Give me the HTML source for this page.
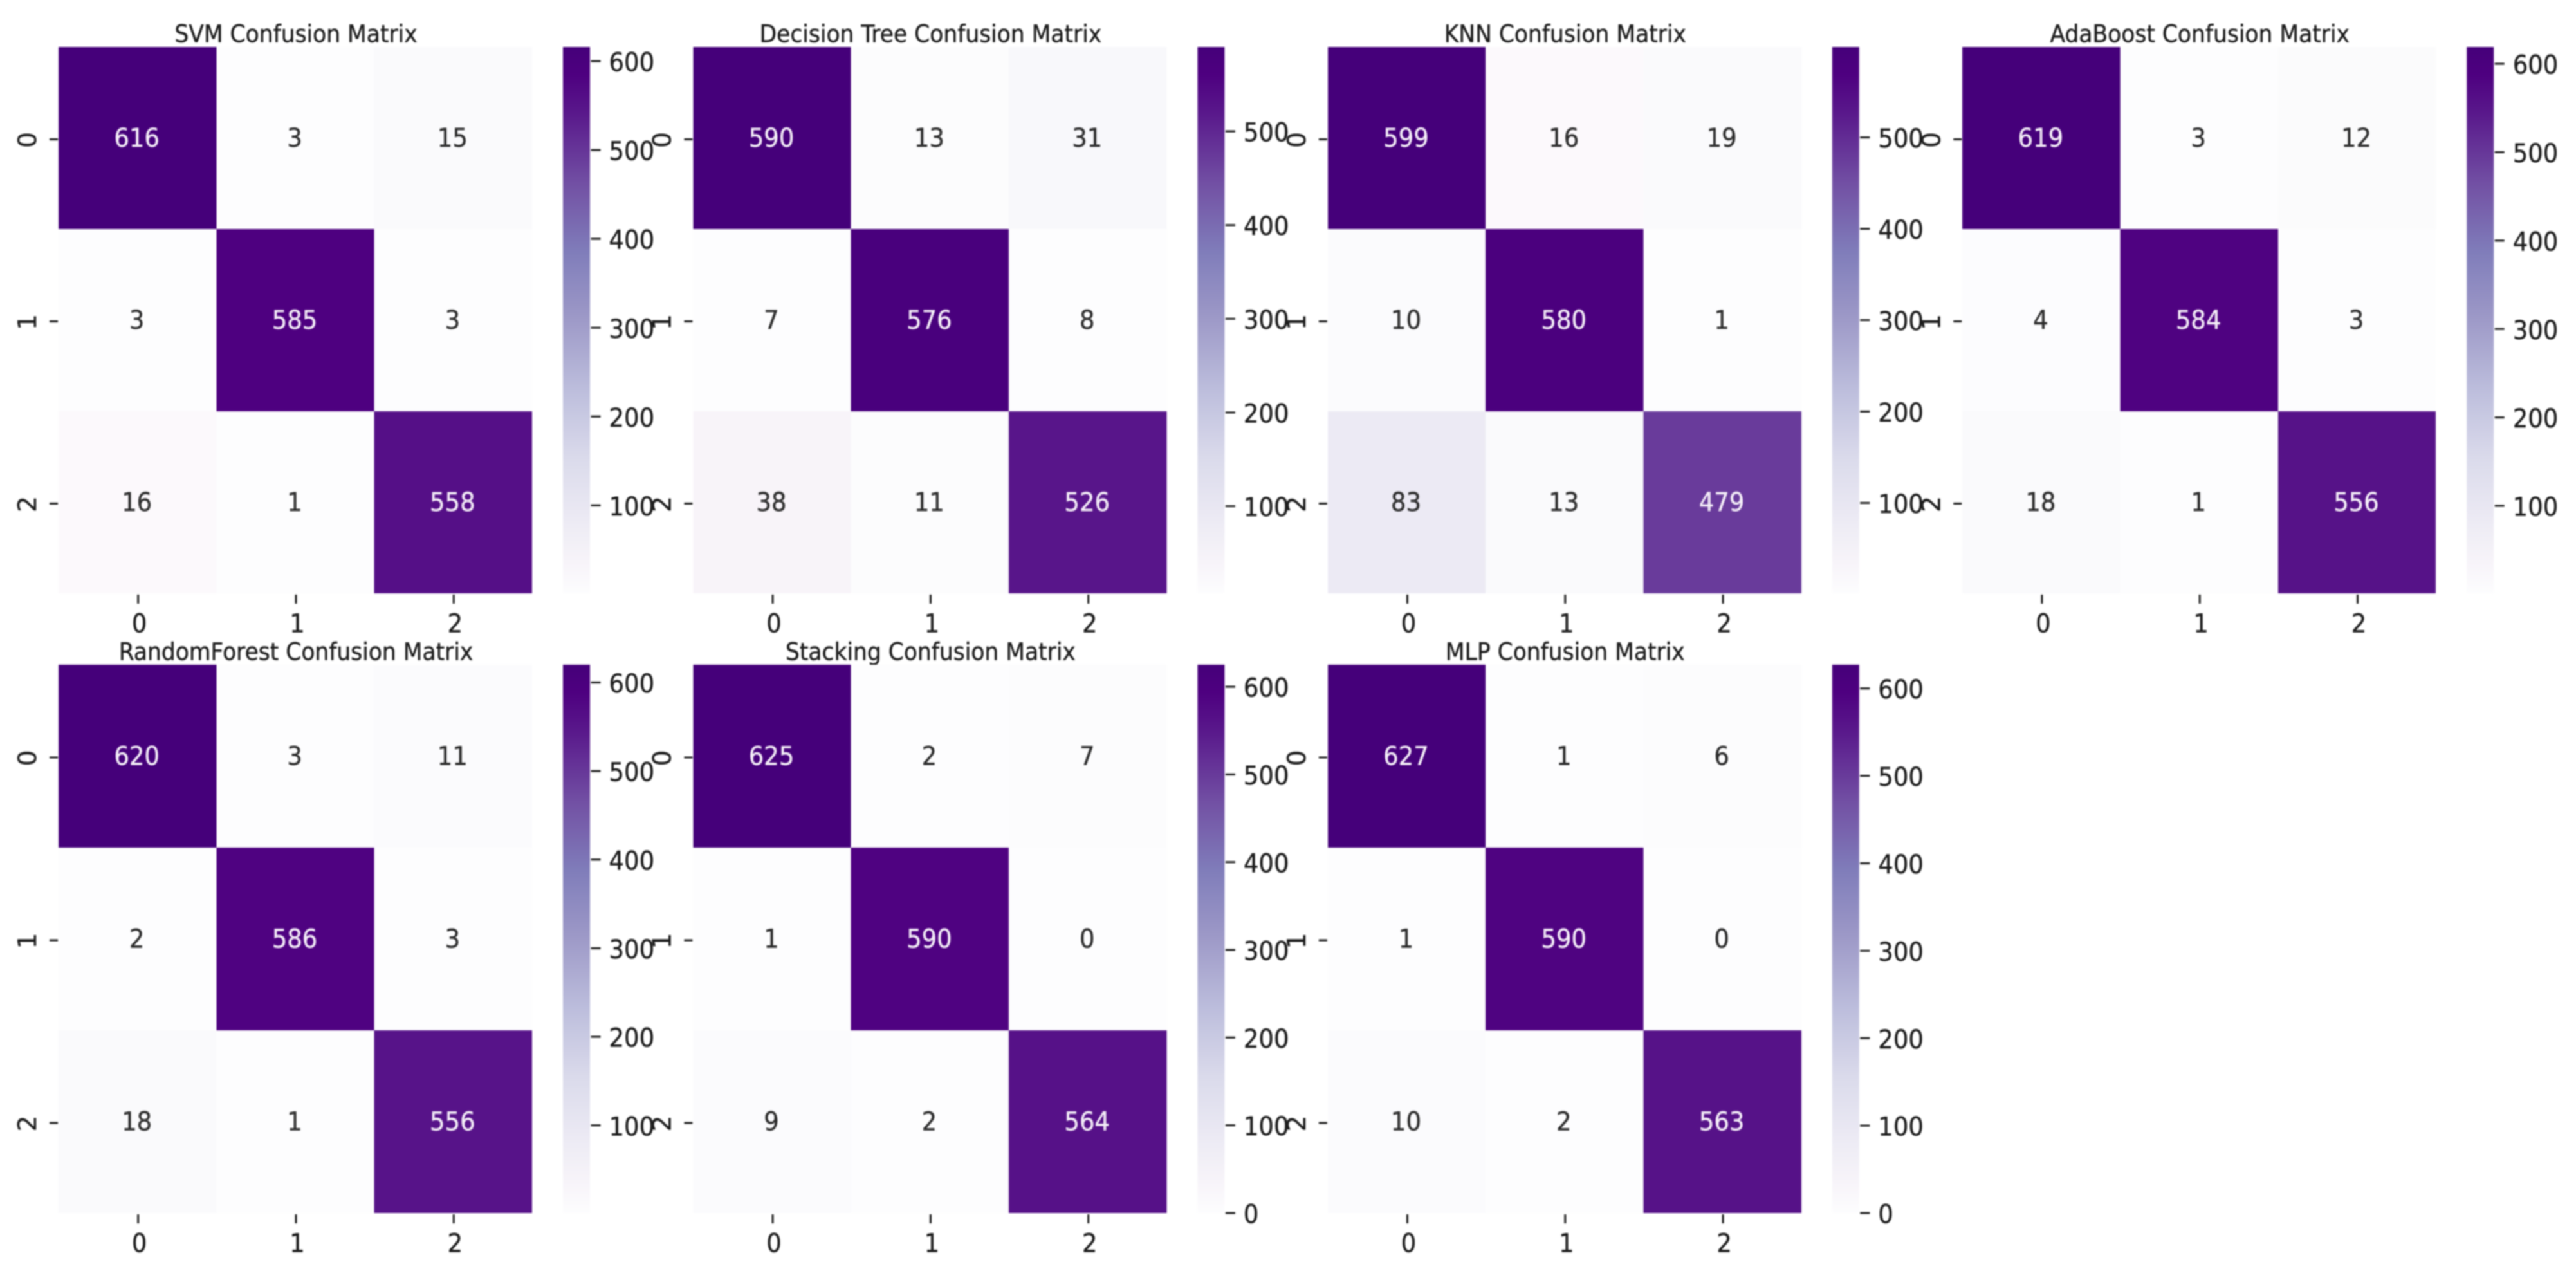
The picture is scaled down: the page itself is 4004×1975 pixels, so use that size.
<!DOCTYPE html>
<html lang="en">
<head>
<meta charset="utf-8">
<title>Confusion Matrices</title>
<style>
html,body{margin:0;padding:0;background:#fff;width:4004px;height:1975px;overflow:hidden}
svg{display:block;filter:blur(1px)}
text{font-family:"DejaVu Sans","Liberation Sans",sans-serif;stroke-width:0.4px}
</style>
</head>
<body>
<svg id="figure" xmlns="http://www.w3.org/2000/svg" width="4004" height="1975" viewBox="0 0 4004 1975"></svg>
<script>
// ---- chart data ----
const modelNames = ["SVM", "Decision Tree", "KNN", "AdaBoost", "RandomForest", "Stacking", "MLP"];
const classLabels = ["0", "1", "2"];
const svmValues = [[616, 3, 15], [3, 585, 3], [16, 1, 558]];
const decisionTreeValues = [[590, 13, 31], [7, 576, 8], [38, 11, 526]];
const knnValues = [[599, 16, 19], [10, 580, 1], [83, 13, 479]];
const adaBoostValues = [[619, 3, 12], [4, 584, 3], [18, 1, 556]];
const randomForestValues = [[620, 3, 11], [2, 586, 3], [18, 1, 556]];
const stackingValues = [[625, 2, 7], [1, 590, 0], [9, 2, 564]];
const mlpValues = [[627, 1, 6], [1, 590, 0], [10, 2, 563]];
const allMatrices = [svmValues, decisionTreeValues, knnValues, adaBoostValues, randomForestValues, stackingValues, mlpValues];
const colorbarTicksFrom100To600 = [100, 200, 300, 400, 500, 600];
const colorbarTicksFrom100To500 = [100, 200, 300, 400, 500];
const colorbarTicksFrom0To600 = [0, 100, 200, 300, 400, 500, 600];
const colorbarTicks = [colorbarTicksFrom100To600, colorbarTicksFrom100To500, colorbarTicksFrom100To500, colorbarTicksFrom100To600, colorbarTicksFrom100To600, colorbarTicksFrom0To600, colorbarTicksFrom0To600];

// ---- layout ----
const NS = "http://www.w3.org/2000/svg";
const svg = document.getElementById("figure");
const FS = 37, ROT_FS = 39, TITLE_FS = 34.5, STRETCH = 1.08, INK = "#1c1c1c";
const panelLeft = i => 91 + 986.4 * (i % 4);
const panelTop = i => i < 4 ? 73 : 1033;
const panelBottom = i => i < 4 ? 922 : 1885;
const panelWidth = 736;

const colorStops = [[0,"#fdfdfe"],[0.0235,"#fafafc"],[0.024,"#fcf9fc"],[0.026,"#fcf9fc"],[0.0265,"#fafafc"],[0.041,"#f8f8fb"],[0.053,"#f8f4f9"],[0.125,"#eeecf5"],[0.25,"#dadaeb"],[0.375,"#bcbddc"],[0.5,"#9e9ac8"],[0.625,"#807dba"],[0.75,"#7250a4"],[0.875,"#5a1a8c"],[0.95,"#4e0080"],[1,"#45007a"]];
function hexToRgb(h){return [1,3,5].map(p=>parseInt(h.substr(p,2),16));}
function cmap(t){
  t = Math.max(0, Math.min(1, t));
  for (let k = 1; k < colorStops.length; k++) {
    if (t <= colorStops[k][0]) {
      const a = colorStops[k-1], b = colorStops[k];
      const f = (t - a[0]) / (b[0] - a[0]);
      const ca = hexToRgb(a[1]), cb = hexToRgb(b[1]);
      return "rgb(" + ca.map((v,n)=>Math.round(v + (cb[n]-v)*f)).join(",") + ")";
    }
  }
  return colorStops[colorStops.length-1][1];
}
function make(parent, tag, attrs, content){
  const node = document.createElementNS(NS, tag);
  for (const key in attrs) node.setAttribute(key, attrs[key]);
  if (content !== undefined) node.textContent = content;
  parent.appendChild(node);
  return node;
}
// Reference text is slightly stretched vertically; baseline at (x, y).
function stretchedText(parent, x, y, size, fill, anchor, content){
  return make(parent, "text", {x: 0, y: 0, transform: "translate(" + x + " " + y + ") scale(1 " + STRETCH + ")", "text-anchor": anchor, "font-size": size, fill: fill, stroke: fill}, content);
}

const defs = make(svg, "defs", {});

allMatrices.forEach((matrix, p) => {
  const left = panelLeft(p), top = panelTop(p), bottom = panelBottom(p);
  const height = bottom - top;
  const flat = matrix.flat();
  const vmin = Math.min(...flat), vmax = Math.max(...flat);
  const norm = v => (v - vmin) / (vmax - vmin);
  const xScale = c => left + panelWidth * c / classLabels.length;
  const yScale = r => top + height * r / classLabels.length;
  const digitMid = FS * 0.364 * STRETCH;
  const slug = modelNames[p].toLowerCase().replace(/\s+/g, "-");

  const group = make(svg, "g", {});
  
  

  const title = stretchedText(group, left + panelWidth / 2 + 1, top - 7.5, TITLE_FS, INK, "middle", modelNames[p] + " Confusion Matrix");
  
  

  matrix.forEach((row, r) => row.forEach((value, c) => {
    const t = norm(value);
    const cell = make(group, "rect", {x: xScale(c), y: yScale(r), width: xScale(c+1) - xScale(c), height: yScale(r+1) - yScale(r), fill: cmap(t), "shape-rendering": "crispEdges"});
    
    
    const cx = (xScale(c) + xScale(c+1)) / 2, cy = (yScale(r) + yScale(r+1)) / 2;
    const label = stretchedText(group, cx - 1, cy - 1 + digitMid, FS, t > 0.5 ? "#f4eef8" : "#2c2c2c", "middle", String(value));
    
    
  }));

  classLabels.forEach((name, k) => {
    const tx = (xScale(k) + xScale(k+1)) / 2 + 1;
    const xTick = make(group, "rect", {x: tx - 1.5, y: bottom + 2, width: 3, height: 14, fill: INK});
    
    
    const xLabel = stretchedText(group, tx + 2, bottom + 46 + digitMid, FS, INK, "middle", name);
    
    

    const ty = (yScale(k) + yScale(k+1)) / 2 + 2;
    const yTick = make(group, "rect", {x: left - 14, y: ty - 1.5, width: 13, height: 3, fill: INK});
    
    
    const lx = left - 49 + ROT_FS * 0.364, ly = ty + 1;
    const yLabel = make(group, "text", {x: lx, y: ly, "text-anchor": "middle", "font-size": ROT_FS, fill: INK, stroke: INK, transform: "rotate(-90 " + lx + " " + ly + ")"}, name);
    
    
  });

  // colorbar (sampled from t = 0.05 up, with an explicit start stop, so the gradient stays neutral at the pale end)
  const barLeft = left + 784, barWidth = 42;
  const gradient = make(defs, "linearGradient", {id: "bar-gradient-" + p, x1: 0, y1: 1, x2: 0, y2: 0});
  make(gradient, "stop", {offset: 0, "stop-color": cmap(0)});
  for (let s = 2; s <= 40; s++) make(gradient, "stop", {offset: s / 40, "stop-color": cmap(s / 40)});
  const bar = make(group, "rect", {x: barLeft, y: top, width: barWidth, height: height, fill: "url(#bar-gradient-" + p + ")"});
  
  
  const barY = v => bottom - norm(v) * height;
  colorbarTicks[p].forEach(v => {
    const mark = make(group, "rect", {x: barLeft + barWidth + 1.5, y: barY(v) - 1.5, width: 15, height: 3, fill: INK});
    
    
    const barLabel = stretchedText(group, barLeft + barWidth + 29.5, barY(v) + 1 + digitMid, FS, INK, "start", String(v));
    
    
  });
});
</script>
</body>
</html>
